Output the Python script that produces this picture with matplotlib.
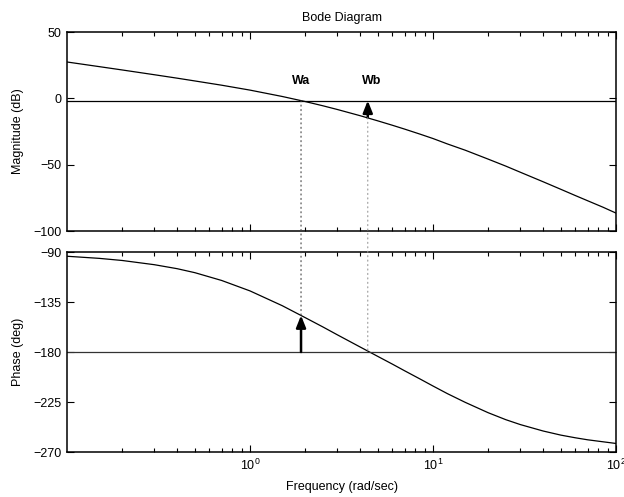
import numpy as np
import matplotlib
matplotlib.use("Agg")
import matplotlib.pyplot as plt
from matplotlib.patches import ConnectionPatch
from matplotlib.ticker import LogLocator, NullFormatter, FixedLocator

plt.rcParams['font.family'] = ['Liberation Sans', 'DejaVu Sans']
plt.rcParams['mathtext.fontset'] = 'custom'
plt.rcParams['mathtext.rm'] = 'Liberation Sans'
plt.rcParams['mathtext.default'] = 'regular'
plt.rcParams['font.size'] = 9

# values
freq = [0.1, 0.15, 0.2, 0.3, 0.4, 0.5, 0.7, 1, 1.5, 2, 2.5, 3, 4, 5, 6, 7,
        8.5, 10, 12, 15, 20, 25, 30, 40, 50, 60, 70, 85, 100]
mag_db = [27.4, 23.9, 21.4, 17.8, 15.2, 13.1, 9.9, 6.2, 1.4, -2.4, -5.6,
          -8.4, -13.1, -17.0, -20.3, -23.2, -27.0, -30.3, -34.4, -39.1,
          -45.8, -51.1, -55.7, -62.9, -68.6, -73.3, -77.2, -82.1, -86.5]
phase_deg = [-93.8, -95.7, -97.6, -101.4, -105.0, -108.6, -115.6, -125.0,
             -138.3, -149.0, -157.4, -164.5, -175.5, -184.0, -190.9, -196.9,
             -204.3, -210.6, -217.5, -225.3, -234.6, -240.9, -245.3, -251.1,
             -254.8, -257.2, -259.0, -260.8, -262.3]

ref_mag = -1.7       # horizontal line in magnitude plot
ref_phase = -180     # horizontal line in phase plot
wa, wa_mag, wa_phase = 1.9, -1.7, -147.0
wb, wb_mag, wb_phase = 4.4, -14.7, -180.0

mag_ticks = [-100, -50, 0, 50]
phase_ticks = [-270, -225, -180, -135, -90]

fig = plt.figure(figsize=(6.24, 4.97), dpi=100)
ax1 = fig.add_axes([0.1074, 0.5352, 0.8798, 0.4004])
ax2 = fig.add_axes([0.1074, 0.0905, 0.8798, 0.4024])

for ax in (ax1, ax2):
    ax.set_xscale('log')
    ax.set_xlim(0.1, 100)
    ax.xaxis.set_major_locator(FixedLocator([1, 10, 100]))
    ax.xaxis.set_minor_locator(LogLocator(base=10, subs=np.arange(2, 10), numticks=20))
    ax.xaxis.set_minor_formatter(NullFormatter())
    ax.tick_params(which='both', direction='in', top=True, right=True, width=0.8)
    ax.tick_params(which='major', length=5, pad=4)
    ax.tick_params(which='minor', length=3)
    for s in ax.spines.values():
        s.set_linewidth(1.1)

ax1.plot(freq, mag_db, color='k', lw=0.9)
ax1.axhline(ref_mag, color='k', lw=0.9)
ax1.set_ylim(-100, 50)
ax1.set_yticks(mag_ticks)
ax1.set_xticklabels([])
ax1.set_ylabel('Magnitude (dB)')
ax1.set_title('Bode Diagram', fontsize=9, pad=8)

ax2.plot(freq, phase_deg, color='k', lw=0.9)
ax2.axhline(ref_phase, color='#333333', lw=0.9)
ax2.set_ylim(-270, -90)
ax2.set_yticks(phase_ticks)
ax2.set_xticklabels(['$10^{0}$', '$10^{1}$', '$10^{2}$'])
ax2.set_ylabel('Phase (deg)')
ax2.set_xlabel('Frequency (rad/sec)', labelpad=6)

ax1.yaxis.set_label_coords(-0.078, 0.5)
ax2.yaxis.set_label_coords(-0.078, 0.5)

# dotted guide lines across both plots
con_a = ConnectionPatch(xyA=(wa, wa_mag), coordsA=ax1.transData,
                        xyB=(wa, wa_phase), coordsB=ax2.transData,
                        linestyle=(0, (1, 3)), color='#444444', lw=0.8)
con_b = ConnectionPatch(xyA=(wb, wb_mag), coordsA=ax1.transData,
                        xyB=(wb, wb_phase), coordsB=ax2.transData,
                        linestyle=(0, (1, 3)), color='#999999', lw=0.8)
fig.add_artist(con_a)
fig.add_artist(con_b)

arrow = dict(arrowstyle='-|>,head_length=0.55,head_width=0.22', color='k',
             lw=1.8, mutation_scale=13, shrinkA=0, shrinkB=0)
ax1.annotate('', xy=(wb, ref_mag), xytext=(wb, wb_mag), arrowprops=arrow)
ax2.annotate('', xy=(wa, wa_phase), xytext=(wa, ref_phase), arrowprops=arrow)

ax1.text(1.9, 13, 'Wa', ha='center', va='center', fontweight='bold')
ax1.text(4.65, 13, 'Wb', ha='center', va='center', fontweight='bold')

fig.savefig('out.png', dpi=100)
